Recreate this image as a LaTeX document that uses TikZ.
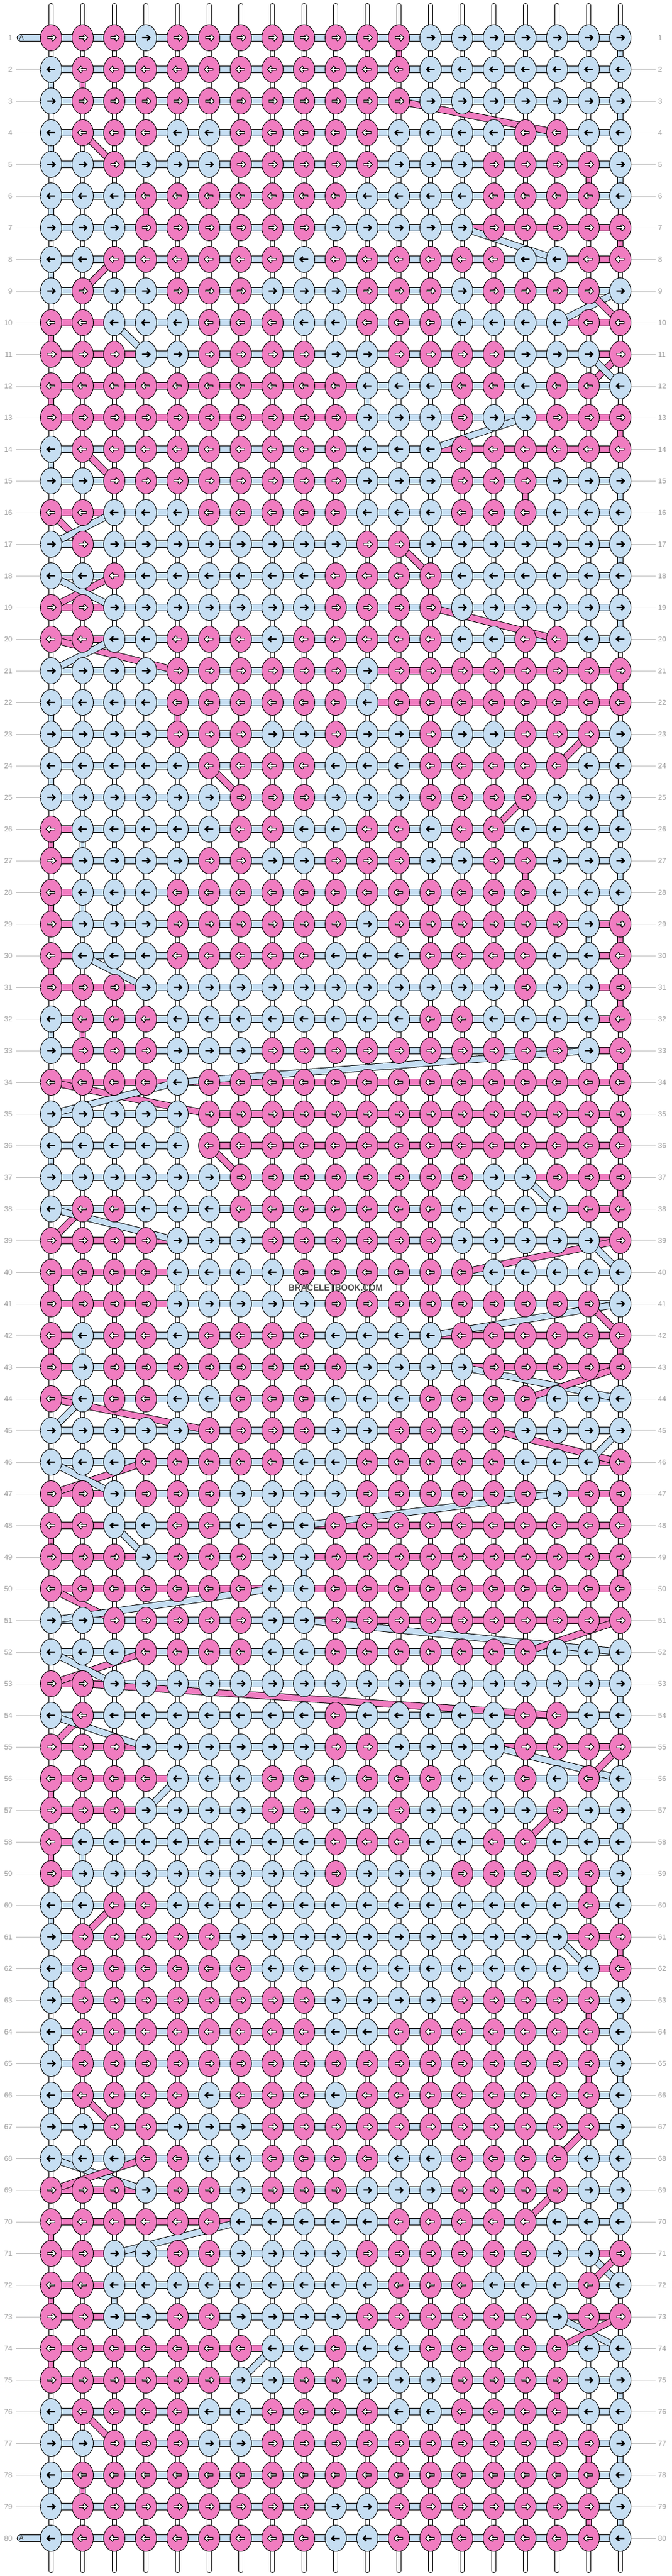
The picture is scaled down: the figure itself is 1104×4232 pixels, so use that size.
\documentclass[tikz,border=0pt]{standalone}
\usepackage{fontspec}
\setmainfont{Liberation Sans}
\usetikzlibrary{shapes.geometric}
\definecolor{pk}{HTML}{F07CC0}
\definecolor{bl}{HTML}{C6DEF2}
\definecolor{lbtext}{HTML}{9C9C9C}
\definecolor{lbline}{HTML}{BFBFBF}
\definecolor{wmark}{HTML}{4A4A4A}
\newcount\kcol
\def\kparse#1{\ifx#1\relax\let\knext\relax\else\def\knext{\kknot#1\kparse}\fi\knext}
\def\kknot#1{\global\advance\kcol by 1\relax\edef\kc{\the\kcol}\csname kk#1\endcsname}
\def\kkP{\node[knotshape,fill=pk] (k\kr-\kc) at (p\kr-\kc) {};\pic[xscale=\kdir] at (k\kr-\kc) {arW};}
\def\kkB{\node[knotshape,fill=bl] (k\kr-\kc) at (p\kr-\kc) {};\pic[xscale=\kdir] at (k\kr-\kc) {arB};}
\newcommand\krow[2]{\global\kcol=0\relax\def\kr{#1}\ifodd#1\relax\def\kdir{1}\else\def\kdir{-1}\fi\kparse#2\relax}
\tikzset{
  knotshape/.style={ellipse, draw=black, line width=0.9pt, minimum width=35pt, minimum height=43pt, inner sep=0pt, outer sep=0pt},
  strO/.style={line width=8pt, draw=black, line cap=round},
  strI/.style={line width=6pt, draw=white, line cap=round},
  bandO/.style={line width=11.5pt, draw=black},
  bandI/.style={line width=9.5pt},
  vfO/.style={line width=10.5pt, draw=black},
  vfI/.style={line width=8.5pt},
  dgO/.style={line width=11.5pt, draw=black},
  dgI/.style={line width=9.5pt},
  labn/.style={text=lbtext, font=\fontsize{12}{12}\selectfont, inner sep=0pt},
  lbl/.style={draw=lbline, line width=1pt},
  arB/.pic={\draw[line width=2.4pt, black, line join=miter] (-6.5,0) -- (5.2,0) (1.8,-4.5) -- (6.3,0) -- (1.8,4.5);},
  arW/.pic={\draw[line width=4.4pt, black, line join=miter] (-6.5,0) -- (5,0) (1.5,-4.5) -- (6,0) -- (1.5,4.5);
            \draw[line width=2pt, white, line join=miter] (-5.6,0) -- (5,0) (2.2,-3.8) -- (6,0) -- (2.2,3.8);}
}
\begin{document}
\begin{tikzpicture}[x=1pt,y=-1pt]
\useasboundingbox (0,0) rectangle (1104,4232);
\fill[white] (0,0) rectangle (1104,4232);
% grid coordinates
\foreach \ri in {1,...,80}{\foreach \ci in {1,...,19}{\coordinate (p\ri-\ci) at ({84+52*(\ci-1)},{62+52*(\ri-1)});}}
\foreach \ci in {1,...,19}{\coordinate (t\ci) at ({84+52*(\ci-1)},9);\coordinate (b\ci) at ({84+52*(\ci-1)},4223);}
% base strings
\foreach \ci in {1,...,19}{\draw[strO] (t\ci) -- (b\ci);\draw[strI] (t\ci) -- (b\ci);}
% vertical carried threads
\foreach \ri/\ci/\cl in {1/19/bl,1/12/pk,2/1/bl,2/2/pk,3/19/bl,4/1/bl,5/19/bl,5/18/pk,6/1/bl,6/4/pk,7/19/pk,8/1/bl,10/1/pk,12/1/pk,12/11/bl,13/19/pk,14/1/bl,15/19/bl,15/16/pk,17/19/bl,19/19/bl,21/11/bl,21/19/pk,22/1/bl,22/5/pk,23/19/bl,24/1/bl,25/19/bl,26/1/pk,26/2/bl,27/16/pk,27/19/bl,28/1/pk,28/2/bl,29/19/pk,29/18/bl,30/1/pk,31/19/pk,31/18/bl,32/1/bl,32/2/pk,33/19/pk,35/19/pk,35/5/bl,36/1/bl,37/19/pk,40/1/pk,40/5/bl,42/1/pk,42/2/bl,42/19/pk,47/19/pk,48/1/pk,49/19/pk,49/9/bl,53/19/bl,56/1/pk,57/19/bl,58/1/pk,58/2/bl,59/19/bl,59/18/pk,60/1/bl,61/19/pk,62/1/bl,62/2/pk,63/19/bl,63/18/pk,64/1/bl,64/2/pk,65/19/bl,65/18/pk,66/1/bl,67/19/bl,69/19/bl,70/1/pk,72/1/pk,72/3/bl,74/1/pk,75/19/bl,75/17/pk,76/1/bl,77/19/bl,77/18/pk,78/1/bl,78/2/pk,79/19/bl,79/18/pk}{%
  \pgfmathtruncatemacro\rr{\ri+1}\draw[vfO] (p\ri-\ci) -- (p\rr-\ci);\draw[vfI,draw=\cl] (p\ri-\ci) -- (p\rr-\ci);}
% horizontal threads
\foreach \ri in {1,...,80}{\draw[bandO] (p\ri-1) -- (p\ri-19);\draw[bandI,draw=bl] (p\ri-1) -- (p\ri-19);}
\foreach \ri/\ga/\gb in {7/14/18,8/17/18,10/1/2,10/17/18,11/1/3,11/18/18,12/1/10,13/1/10,13/16/18,14/13/18,16/1/2,19/1/2,20/1/2,21/11/18,22/11/18,26/1/1,27/1/1,28/1/1,29/1/1,29/18/18,30/1/1,30/18/18,31/1/3,31/18/18,32/18/18,33/18/18,34/1/18,35/6/18,36/6/18,37/16/18,38/17/18,39/1/4,39/18/18,40/1/4,41/1/4,42/1/1,42/13/18,43/1/1,43/14/18,44/1/1,46/18/18,47/1/2,47/17/18,48/1/2,48/9/18,49/1/3,49/9/18,50/1/7,50/9/18,51/9/18,53/1/2,55/1/3,55/15/18,56/1/4,57/1/3,58/1/1,59/1/1,61/17/18,62/18/18,69/1/3,70/1/6,71/1/2,71/18/18,72/1/2,73/1/2,73/17/18,74/1/7,75/1/6}{%
  \pgfmathtruncatemacro\gc{\gb+1}\draw[bandI,draw=pk] (p\ri-\ga) -- (p\ri-\gc);}
\draw[line width=14pt,white] (p35-5) -- (p35-6);
\draw[line width=14pt,white] (p36-5) -- (p36-6);
% diagonal threads
\foreach \ra/\ca/\rb/\cb/\cl in {3/12/4/17/pk,4/2/5/3/pk,7/14/8/17/bl,8/3/9/2/pk,9/19/10/17/bl,9/18/10/19/pk,10/3/11/4/bl,11/19/12/18/pk,11/18/12/19/bl,13/16/14/13/bl,14/2/15/3/pk,16/1/17/2/pk,16/3/17/1/bl,17/12/18/13/pk,18/3/19/1/pk,18/1/19/3/bl,19/13/20/17/pk,20/1/21/5/pk,20/3/21/1/bl,23/18/24/17/pk,24/6/25/7/pk,25/16/26/15/pk,30/2/31/4/bl,33/18/34/5/bl,34/1/35/6/pk,34/5/35/1/bl,36/6/37/7/pk,37/16/38/17/bl,38/2/39/1/pk,38/1/39/5/bl,39/19/40/14/pk,39/18/40/19/bl,41/19/42/13/bl,41/18/42/19/pk,43/14/44/19/bl,43/19/44/16/pk,44/1/45/6/pk,44/2/45/1/bl,45/15/46/19/pk,45/19/46/18/bl,46/4/47/1/pk,46/1/47/3/bl,47/17/48/9/bl,48/3/49/4/bl,50/1/51/3/pk,50/8/51/1/bl,51/9/52/19/bl,51/19/52/16/pk,52/4/53/1/pk,52/1/53/3/bl,53/2/54/17/pk,54/2/55/1/pk,54/1/55/4/bl,55/15/56/19/bl,55/19/56/18/pk,56/5/57/4/bl,57/17/58/16/pk,60/3/61/2/pk,61/17/62/18/bl,66/2/67/3/pk,67/18/68/17/pk,68/1/69/4/bl,68/4/69/1/pk,69/17/70/16/pk,70/7/71/3/bl,71/18/72/19/bl,71/19/72/18/pk,73/17/74/19/bl,73/19/74/17/pk,74/8/75/7/bl,76/2/77/3/pk}{%
  \draw[dgO] (p\ra-\ca) -- (p\rb-\cb);\draw[dgI,draw=\cl] (p\ra-\ca) -- (p\rb-\cb);}
% A thread ends
\draw[fill=bl, line width=0.9pt, rounded corners=5.5pt] (28,56.5) rectangle (84,67.5);
\draw[fill=bl, line width=0.9pt, rounded corners=5.5pt] (28,4164.5) rectangle (84,4175.5);
\node[anchor=west, inner sep=0pt, font=\fontsize{11}{11}\selectfont, text=black!80] (aTop) at (31.5,62) {A};
\node[anchor=west, inner sep=0pt, font=\fontsize{11}{11}\selectfont, text=black!80] (aBot) at (31.5,4170) {A};
% knots
\krow{1}{PPPBPPPPPPPPBBBBBBB}
\krow{2}{BPPPPPPPPPPPBBBBBBB}
\krow{3}{BPPPPPPPPPPPBBBBBBB}
\krow{4}{BPPPBBPPPPPBBBBPPBB}
\krow{5}{BBPBBBPPPPPBBBPPPPB}
\krow{6}{BBBPPPPPPPBBBBPPPPB}
\krow{7}{BBBPPPPPPBBBBBPPPPP}
\krow{8}{BBPPPPPPBPPPPPPBBPP}
\krow{9}{BPBBPPPBBBPPPBPPPPB}
\krow{10}{PPBBBPPPBBPPPBBBBPP}
\krow{11}{PPPBBPPPPBBPPPPBBBP}
\krow{12}{PPPPPPPPPPBBBPPBPPB}
\krow{13}{PPPPPPPPPPBBBPBBPPP}
\krow{14}{BPPPPPPPPPBBBPPPPPP}
\krow{15}{BBPPPPPPPPBBBPPPBBB}
\krow{16}{PPBBBPPPPPBBBPPPBBB}
\krow{17}{BPBBBBBBBBPPBBBBBBB}
\krow{18}{BBPBBBBBBPPPPBBBBBB}
\krow{19}{PPBBBBBBBPPPPBBBBBB}
\krow{20}{PPBBPPPBPPPPPBBPPBB}
\krow{21}{BBBBPPPPPPBPPPPPPPP}
\krow{22}{BBBBPPPPPPBPPPPPPPP}
\krow{23}{BBBBPPPBBPBBPBBPPPB}
\krow{24}{BBBBBPPPPBBBPPPPPBB}
\krow{25}{BBBBBBPPPBBBPPPPBBB}
\krow{26}{PBBBBBPPBBPPBPPBBBB}
\krow{27}{PBBBBPPBBPPPBBPPBBB}
\krow{28}{PBBBPPPPPPPPPPPPBBB}
\krow{29}{PBBBPPPPPPBPPPPPPBP}
\krow{30}{PBBBPPPPPBBBPPPPBBP}
\krow{31}{PPPBBBBBBBBBBBBPBBP}
\krow{32}{BPPPBBBBBBBBPPBBBBP}
\krow{33}{BPPPBBBPPPPPPPPPPBP}
\krow{34}{PPPPBPPPPPPPPPPPPPP}
\krow{35}{BBBBBPPPPPPPPPPPPPP}
\krow{36}{BBBBBPPPPPPPPPPPPPP}
\krow{37}{BBBBBBPPPPPPPPBBPPP}
\krow{38}{BPPBBBPPPPPPPBBBBPP}
\krow{39}{PPPPBBBPPPPPPBBBBBP}
\krow{40}{PPPPBBBBPPPPPPBBBBB}
\krow{41}{PPPPBBBBBPPPPPPPPPB}
\krow{42}{PBPPBPPPPBBBBPPPPPP}
\krow{43}{PBPPPPPPPPBBBBPPPPP}
\krow{44}{PBPPBBPPPBBBPPPPBBB}
\krow{45}{BBBBBPPPPBBPPPPBBBB}
\krow{46}{BBBPPPPPBBPPPPPBBBP}
\krow{47}{PPBPPPBBBBPPPPPPBPP}
\krow{48}{PPBBPPBBBPPPPPPPPPP}
\krow{49}{PPPBPPPBBPPPPPPPPPP}
\krow{50}{PPPPPPPBBPPPPPPPPPP}
\krow{51}{BBPPPPPBBPPPPPPPPPP}
\krow{52}{BBBPPPPBBPPPPPPPBBB}
\krow{53}{PPBBBBBBBBBBBBBBBBB}
\krow{54}{BPBBBBBBBPBBBBBPPBB}
\krow{55}{PPPBBBBBBPPBBBBPPPP}
\krow{56}{PPPPBBBPPBPPPBBPBPB}
\krow{57}{PPPBBBBPPBBPBBBBPBB}
\krow{58}{PBBBBBBBBPPPBBPPBBB}
\krow{59}{PBBBBBBBBPBBBPPPPPB}
\krow{60}{BBPPBBBBBBBBBBBBBPB}
\krow{61}{BPPPPPBBBBBBBBBBBPP}
\krow{62}{BPPPPPPBBBBBBBBBBBP}
\krow{63}{BPPPPPPPPBBBBPPPPPB}
\krow{64}{BPPPPPPPPBBPPPPPPPB}
\krow{65}{BPPPPPPPPPPPPPPPPPB}
\krow{66}{BPPPPBPPPBPPPPPPPPB}
\krow{67}{BBPPBBBPPPPPPPPPPPB}
\krow{68}{BBBPPBBPPPPBBPPPPBB}
\krow{69}{PPPBPPBPPPBBBPPPPBB}
\krow{70}{PPPPPPBBBBBPPPPPBBB}
\krow{71}{PPBBPPBBBBPPPPPPBBP}
\krow{72}{PPBBBBBBBBBPPPBBBPB}
\krow{73}{PPBBPPBBBBPPPPPPBPP}
\krow{74}{PPPPPPPBBPBBPPPPPBB}
\krow{75}{PPPPPPBBPPBBBPPPPBB}
\krow{76}{BPPPPBBPPPPBBPPPPBB}
\krow{77}{BBPPPBBPPPPPPPPPPPB}
\krow{78}{BPPPPPPPPPPPPPPPPPB}
\krow{79}{BPPPPPPPPBBPPPPPPPB}
\krow{80}{BPPPPPPPPBBPPPPPPPB}
% row labels
\foreach \ri in {1,...,80}{%
  \node[labn, anchor=east] (lL\ri) at (20.5,{62+52*(\ri-1)}) {\ri};
  \node[labn, anchor=west] (lR\ri) at (1082,{62+52*(\ri-1)}) {\ri};
  \draw[lbl] (k\ri-19.east) -- (1078,{62+52*(\ri-1)});}
\foreach \ri in {2,...,79}{\draw[lbl] (26,{62+52*(\ri-1)}) -- (k\ri-1.west);}
\node[font=\fontsize{14}{14}\selectfont\bfseries, text=wmark, inner sep=0pt] (wm) at (552,2116) {BRACELETBOOK.COM};
\end{tikzpicture}
\end{document}
